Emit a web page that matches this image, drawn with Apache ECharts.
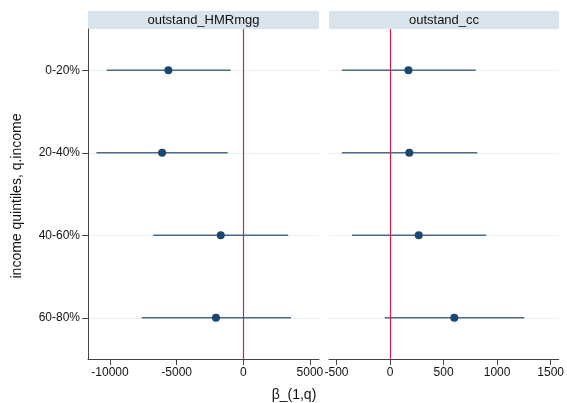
<!DOCTYPE html>
<html>
<head>
<meta charset="utf-8">
<script src="https://cdn.jsdelivr.net/npm/echarts@6/dist/echarts.min.js"></script>
<style>html,body{margin:0;padding:0;background:#fff}#c{width:567px;height:403px}</style>
</head>
<body>
<div id="c"></div>
<script>
var categories = ['0-20%', '20-40%', '40-60%', '60-80%'];
var panelTitles = ['outstand_HMRmgg', 'outstand_cc'];
// outstand_HMRmgg
var hmrEst = [-5620, -6090, -1690, -2050];
var hmrLo  = [-10240, -11020, -6750, -7620];
var hmrHi  = [-950, -1170, 3370, 3580];
// outstand_cc
var ccEst = [172, 180, 268, 600];
var ccLo  = [-450, -450, -355, -49];
var ccHi  = [800, 815, 898, 1254];
var ticksLeft = [-10000, -5000, 0, 5000];
var ticksRight = [-500, 0, 500, 1000, 1500];

var FONT = 'Liberation Sans, Arial, Helvetica, sans-serif';
var NAVY = '#1a476f';
var CI = '#4c6b8b';
var RED = '#d81e4c';

function ciData(lo, hi) {
  return lo.map(function (v, i) { return [v, hi[i], i]; });
}
function ptData(est) {
  return est.map(function (v, i) { return [v, i]; });
}
function renderCI(params, api) {
  var a = api.coord([api.value(0), api.value(2)]);
  var b = api.coord([api.value(1), api.value(2)]);
  return { type: 'line', shape: { x1: a[0], y1: a[1], x2: b[0], y2: b[1] },
           style: { stroke: CI, lineWidth: 1.6 } };
}
function yAxis(gi, showLab) {
  return {
    type: 'value', gridIndex: gi, min: -0.5, max: 3.5, inverse: true,
    axisLine: { show: showLab, onZero: false, lineStyle: { color: '#444', width: 1 } },
    axisTick: { show: showLab, length: 6, lineStyle: { color: '#444' }, customValues: [0, 1, 2, 3] },
    axisLabel: { show: showLab, customValues: [0, 1, 2, 3], margin: 8, fontFamily: FONT, fontSize: 12, color: '#111',
      formatter: function (v) { return categories[Math.round(v)] || ''; } },
    splitLine: { show: true, lineStyle: { color: '#eaf0f3', width: 1 } }
  };
}
function xAxis(gi, mn, mx, ticks) {
  return {
    type: 'value', gridIndex: gi, min: mn, max: mx,
    axisLine: { show: true, onZero: false, lineStyle: { color: '#444', width: 1 } },
    axisTick: { show: true, length: 6, lineStyle: { color: '#444' }, customValues: ticks },
    axisLabel: { customValues: ticks, margin: 8, fontFamily: FONT, fontSize: 12, color: '#111',
      formatter: function (v) { return String(v); } },
    splitLine: { show: false }
  };
}
function refLine(gi) {
  return {
    type: 'line', xAxisIndex: gi, yAxisIndex: gi, data: [], z: 3,
    markLine: { silent: true, symbol: 'none', label: { show: false },
      lineStyle: { color: RED, width: 1.2, type: 'solid' }, data: [{ xAxis: 0 }] }
  };
}

var chart = echarts.init(document.getElementById('c'), null, { renderer: 'canvas' });
chart.setOption({
  animation: false,
  backgroundColor: '#fff',
  grid: [
    { left: 88, right: 248, top: 29, bottom: 44 },
    { left: 329, right: 8, top: 29, bottom: 44 }
  ],
  xAxis: [xAxis(0, -11650, 5680, ticksLeft), xAxis(1, -570, 1575, ticksRight)],
  yAxis: [yAxis(0, true), yAxis(1, false)],
  graphic: [
    { type: 'rect', shape: { x: 88, y: 11, width: 231, height: 18 }, style: { fill: '#dae4ec' } },
    { type: 'rect', shape: { x: 329, y: 11, width: 230, height: 18 }, style: { fill: '#dae4ec' } },
    { type: 'text', x: 203.5, y: 20, style: { text: panelTitles[0], fontFamily: FONT, fontSize: 13, fill: '#111', align: 'center', verticalAlign: 'middle' } },
    { type: 'text', x: 444, y: 20, style: { text: panelTitles[1], fontFamily: FONT, fontSize: 13, fill: '#111', align: 'center', verticalAlign: 'middle' } },
    { type: 'text', x: 17, y: 196, rotation: Math.PI / 2, style: { text: 'income quintiles, q.income', fontFamily: FONT, fontSize: 14, fill: '#111', align: 'center', verticalAlign: 'middle' } },
    { type: 'text', x: 294, y: 395, style: { text: 'β_(1,q)', fontFamily: FONT, fontSize: 14, fill: '#111', align: 'center', verticalAlign: 'middle' } }
  ],
  series: [
    { type: 'custom', xAxisIndex: 0, yAxisIndex: 0, z: 2, renderItem: renderCI, data: ciData(hmrLo, hmrHi), encode: { x: [0, 1], y: 2 } },
    { type: 'custom', xAxisIndex: 1, yAxisIndex: 1, z: 2, renderItem: renderCI, data: ciData(ccLo, ccHi), encode: { x: [0, 1], y: 2 } },
    refLine(0), refLine(1),
    { type: 'scatter', xAxisIndex: 0, yAxisIndex: 0, z: 4, symbolSize: 8, itemStyle: { color: NAVY, opacity: 1 }, data: ptData(hmrEst) },
    { type: 'scatter', xAxisIndex: 1, yAxisIndex: 1, z: 4, symbolSize: 8, itemStyle: { color: NAVY, opacity: 1 }, data: ptData(ccEst) }
  ]
});
</script>
</body>
</html>
